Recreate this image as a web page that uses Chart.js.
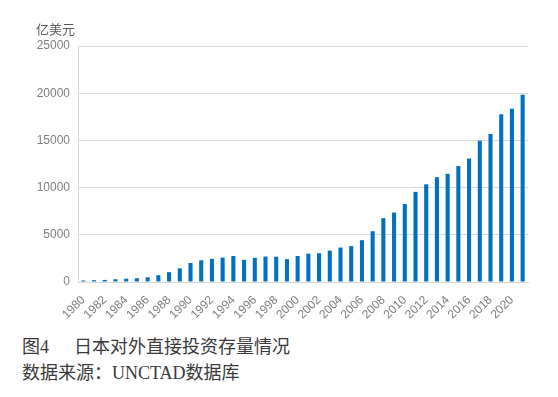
<!DOCTYPE html>
<html>
<head>
<meta charset="utf-8">
<script src="https://cdn.jsdelivr.net/npm/chart.js@4.4.0/dist/chart.umd.min.js"></script>
<style>
  body { margin: 0; background: #fff; }
  #wrap { position: relative; width: 558px; height: 397px; }
  #box { position: absolute; left: 0; top: 0; width: 558px; height: 330px; }
  .cap { position: absolute; left: 22px; font-family: "Liberation Serif", "Noto Sans CJK SC", serif; font-size: 18px; color: #3a3a3a; white-space: nowrap; }
</style>
</head>
<body>
<div id="wrap">
  <div id="box"><canvas id="myChart"></canvas></div>
  <div class="cap" style="top:332px;">图4<span style="margin-left:25px;">日本对外直接投资存量情况</span></div>
  <div class="cap" style="top:358px;">数据来源：UNCTAD数据库</div>
</div>
<script>
const years = [];
for (let y = 1980; y <= 2021; y++) years.push(String(y));

// 亿美元
const stock = [160, 190, 220, 290, 360, 400, 500, 720, 1040, 1450,
  2010, 2300, 2450, 2580, 2750, 2350, 2560, 2700, 2680, 2420,
  2760, 3000, 3050, 3320, 3650, 3800, 4430, 5380, 6760, 7360,
  8260, 9550, 10350, 11100, 11460, 12280, 13080, 14960, 15670, 17780,
  18340, 19830];

const yTicks = [0, 5000, 10000, 15000, 20000, 25000];
const unitLabel = "亿美元";

const textColor = "#7f7f7f";
const gridColor = "#d9d9d9";

const unitPlugin = {
  id: "unitLabel",
  afterDraw(chart) {
    const ctx = chart.ctx;
    const area = chart.chartArea;
    ctx.save();
    ctx.font = "13px 'Noto Sans CJK SC'";
    ctx.fillStyle = "#595959";
    ctx.textAlign = "right";
    ctx.textBaseline = "middle";
    ctx.fillText(unitLabel, area.left - 3, area.top - 17);
    ctx.restore();
  },
};

new Chart("myChart", {
  type: "bar",
  data: {
    labels: years,
    datasets: [
      {
        data: stock,
        backgroundColor: "#0070c0",
        categoryPercentage: 1,
        barPercentage: 0.38,
      },
    ],
  },
  options: {
    responsive: true,
    maintainAspectRatio: false,
    animation: false,
    layout: { padding: { top: 46, right: 30, left: 0, bottom: 0 } },
    plugins: {
      legend: { display: false },
      tooltip: { enabled: false },
    },
    scales: {
      x: {
        grid: { display: false },
        border: { color: gridColor },
        ticks: {
          autoSkip: false,
          maxRotation: 45,
          minRotation: 45,
          padding: 3,
          color: textColor,
          font: { family: "Liberation Sans", size: 12 },
          callback: function (val, idx) {
            return idx % 2 === 0 ? years[idx] : "";
          },
        },
        afterFit: function (s) { s.height = 48; },
      },
      y: {
        min: 0,
        max: 25000,
        afterBuildTicks: function (s) {
          s.ticks = yTicks.map(function (v) { return { value: v }; });
        },
        grid: { color: gridColor, drawTicks: false },
        border: { color: gridColor },
        ticks: {
          padding: 8,
          color: textColor,
          font: { family: "Liberation Sans", size: 12 },
          callback: function (v) { return String(v); },
        },
        afterFit: function (s) { s.width = 78; },
      },
    },
  },
  plugins: [unitPlugin],
});
</script>
</body>
</html>
